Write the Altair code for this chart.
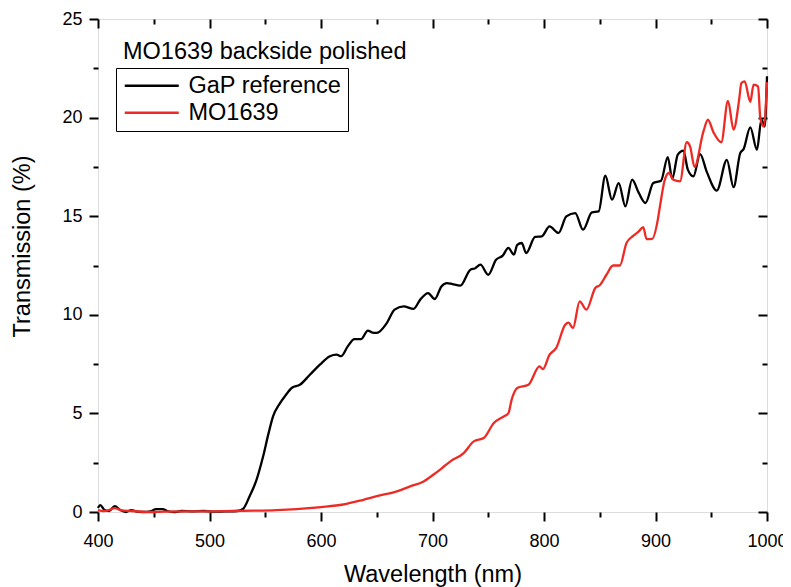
import altair as alt
import pandas as pd

# ---- data ----
series_names = ["GaP reference", "MO1639"]
series_colors = ["#000000", "#ee2a24"]

gap_nm = [400, 402, 406, 410, 415, 420, 425, 430, 435, 440,
          448, 452, 458, 462, 468, 475, 485, 495, 505, 515,
          525, 530, 536, 542, 548, 553, 557, 563, 568, 574,
          581, 590, 599, 608, 614, 618, 624, 630, 636, 642,
          646, 650, 659, 666, 674, 683, 689, 696, 702, 708,
          713, 718, 725, 734, 738, 743, 750, 757, 763, 768,
          773, 776, 780, 784, 792, 798, 805, 813, 820, 828,
          835, 843, 849, 855, 861, 867, 873, 879, 885, 891,
          898, 905, 911, 915, 920, 925, 929, 934, 940, 946,
          955, 964, 970, 976, 979, 985, 991, 995, 998, 1000]
gap_t = [0.2, 0.35, 0.1, 0.05, 0.3, 0.1, 0.0, 0.1, 0.02, 0.0,
         0.05, 0.15, 0.15, 0.05, 0.0, 0.05, 0.03, 0.05, 0.02, 0.03,
         0.05, 0.15, 0.8, 1.6, 2.8, 4.0, 4.85, 5.5, 5.9, 6.3,
         6.45, 6.96, 7.47, 7.9, 7.98, 7.9, 8.4, 8.77, 8.77, 9.2,
         9.1, 9.08, 9.58, 10.26, 10.43, 10.3, 10.77, 11.1, 10.8, 11.44,
         11.61, 11.55, 11.48, 12.29, 12.35, 12.54, 12.03, 12.79, 13.0, 13.39,
         13.05, 13.55, 13.64, 13.13, 13.95, 13.98, 14.48, 14.15, 14.99, 15.16,
         14.32, 15.19, 15.24, 17.05, 15.84, 16.68, 15.5, 16.85, 16.18, 15.67,
         16.68, 16.8, 18.0, 16.9, 18.12, 18.33, 17.36, 17.02, 18.15, 17.25,
         16.3, 17.86, 16.47, 18.2, 18.4, 19.5, 18.37, 19.9, 19.55, 22.1]

mo_nm = [400, 405, 410, 415, 420, 430, 445, 460, 480, 500,
         520, 540, 560, 578, 600, 620, 638, 650, 668, 680,
         692, 701, 708, 716, 728, 737, 746, 755, 764, 768,
         771, 776, 786, 796, 799, 805, 811, 819, 822, 826,
         832, 838, 846, 850, 856, 862, 868, 874, 880, 885,
         889, 892, 897, 902, 904, 908, 912, 916, 922, 928,
         931, 935, 943, 947, 952, 959, 965, 970, 975, 977,
         980, 985, 988, 992, 994, 997, 1000]
mo_t = [0.1, 0.05, 0.1, 0.2, 0.1, 0.05, 0.0, 0.02, 0.03, 0.03,
        0.05, 0.07, 0.1, 0.15, 0.25, 0.38, 0.62, 0.8, 1.05, 1.3,
        1.55, 1.9, 2.2, 2.57, 2.99, 3.58, 3.75, 4.51, 4.85, 5.0,
        5.7, 6.29, 6.45, 7.38, 7.25, 7.98, 8.32, 9.5, 9.6, 9.33,
        10.68, 10.26, 11.36, 11.5, 12.03, 12.5, 12.5, 13.64, 14.0, 14.23,
        14.45, 13.84, 13.85, 14.8, 15.5, 16.77, 17.19, 16.85, 16.77, 18.75,
        18.54, 17.5, 19.3, 19.89, 19.25, 18.75, 20.85, 19.39, 20.9, 21.75,
        21.84, 20.8, 21.67, 21.58, 19.98, 19.55, 21.8]

x_major = [400, 500, 600, 700, 800, 900, 1000]
x_minor = [450, 550, 650, 750, 850, 950]
y_major = [0, 5, 10, 15, 20, 25]
y_minor = [2.5, 7.5, 12.5, 17.5, 22.5]
x_domain = [400, 1000]
y_domain = [0, 25]

annotation = ["MO1639 backside polished"]

# ---- table ----
df = pd.concat([
    pd.DataFrame({"wl": gap_nm, "T": gap_t, "series": series_names[0]}),
    pd.DataFrame({"wl": mo_nm, "T": mo_t, "series": series_names[1]}),
], ignore_index=True)

FONT = "Liberation Sans"
W, H = 669, 493

xs = alt.Scale(domain=x_domain, nice=False, zero=False)
ys = alt.Scale(domain=y_domain, nice=False)

common_ax = dict(grid=False, domain=False, tickColor="black", tickWidth=2,
                 labelFont=FONT, labelColor="black", labelFontSize=18,
                 labelFlush=False, titleFont=FONT, titleColor="black",
                 titleFontSize=23.5, titleFontWeight="normal", format="d")

lines = alt.Chart(df).mark_line(strokeWidth=2.3, interpolate="monotone").encode(
    x=alt.X("wl:Q", scale=xs, axis=alt.Axis(
        orient="bottom", values=x_major, tickSize=9, labelPadding=11,
        title="Wavelength (nm)", titleBaseline="alphabetic",
        titleX=W / 2, titleY=69, **common_ax)),
    y=alt.Y("T:Q", scale=ys, axis=alt.Axis(
        orient="left", values=y_major, tickSize=9, labelPadding=7,
        title="Transmission (%)", titleBaseline="alphabetic",
        titleX=-69, titleY=227, **common_ax)),
    color=alt.Color("series:N",
                    scale=alt.Scale(domain=series_names, range=series_colors),
                    legend=alt.Legend(
                        title=None, orient="none", legendX=18, legendY=49,
                        padding=6, strokeColor="black",
                        fillColor="white", symbolType="M-1,0H5",
                        symbolSize=324, symbolStrokeWidth=2.5,
                        labelFont=FONT, labelFontSize=23.5,
                        labelColor="black", labelOffset=43,
                        labelLimit=400)),
)


def tick_layer(xorient, xvals, xsize, xoff, yorient, yvals, ysize, yoff):
    return alt.Chart(df).mark_line(opacity=0).encode(
        x=alt.X("wl:Q", scale=xs, axis=alt.Axis(
            orient=xorient, values=xvals, tickSize=xsize, offset=xoff,
            labels=False, title=None, **common_ax)),
        y=alt.Y("T:Q", scale=ys, axis=alt.Axis(
            orient=yorient, values=yvals, tickSize=ysize, offset=yoff,
            labels=False, title=None, **common_ax)),
        detail="series:N",
    )


minor_bl = tick_layer("bottom", x_minor, 5, 0, "left", y_minor, 5, 0)
major_tr = tick_layer("top", x_major, 9, -9, "right", y_major, 9, -9)
minor_tr = tick_layer("top", x_minor, 5, -5, "right", y_minor, 5, -5)

label = alt.Chart(pd.DataFrame({"txt": annotation})).mark_text(
    font=FONT, fontSize=23.5, color="black", align="left",
    baseline="alphabetic").encode(
    text="txt:N", x=alt.value(25), y=alt.value(39.5))

chart = alt.layer(lines, minor_bl, major_tr, minor_tr, label).resolve_scale(
    x="independent", y="independent"
).properties(
    width=W, height=H,
    autosize=alt.AutoSizeParams(type="none"),
    padding={"left": 90, "top": 11, "right": 16, "bottom": 76},
).configure_view(
    stroke="black", strokeWidth=2
).configure_legend(
    rowPadding=6, strokeWidth=1
).configure(background="white")

chart.save("out.html", embed_options={"renderer": "svg", "actions": False})
